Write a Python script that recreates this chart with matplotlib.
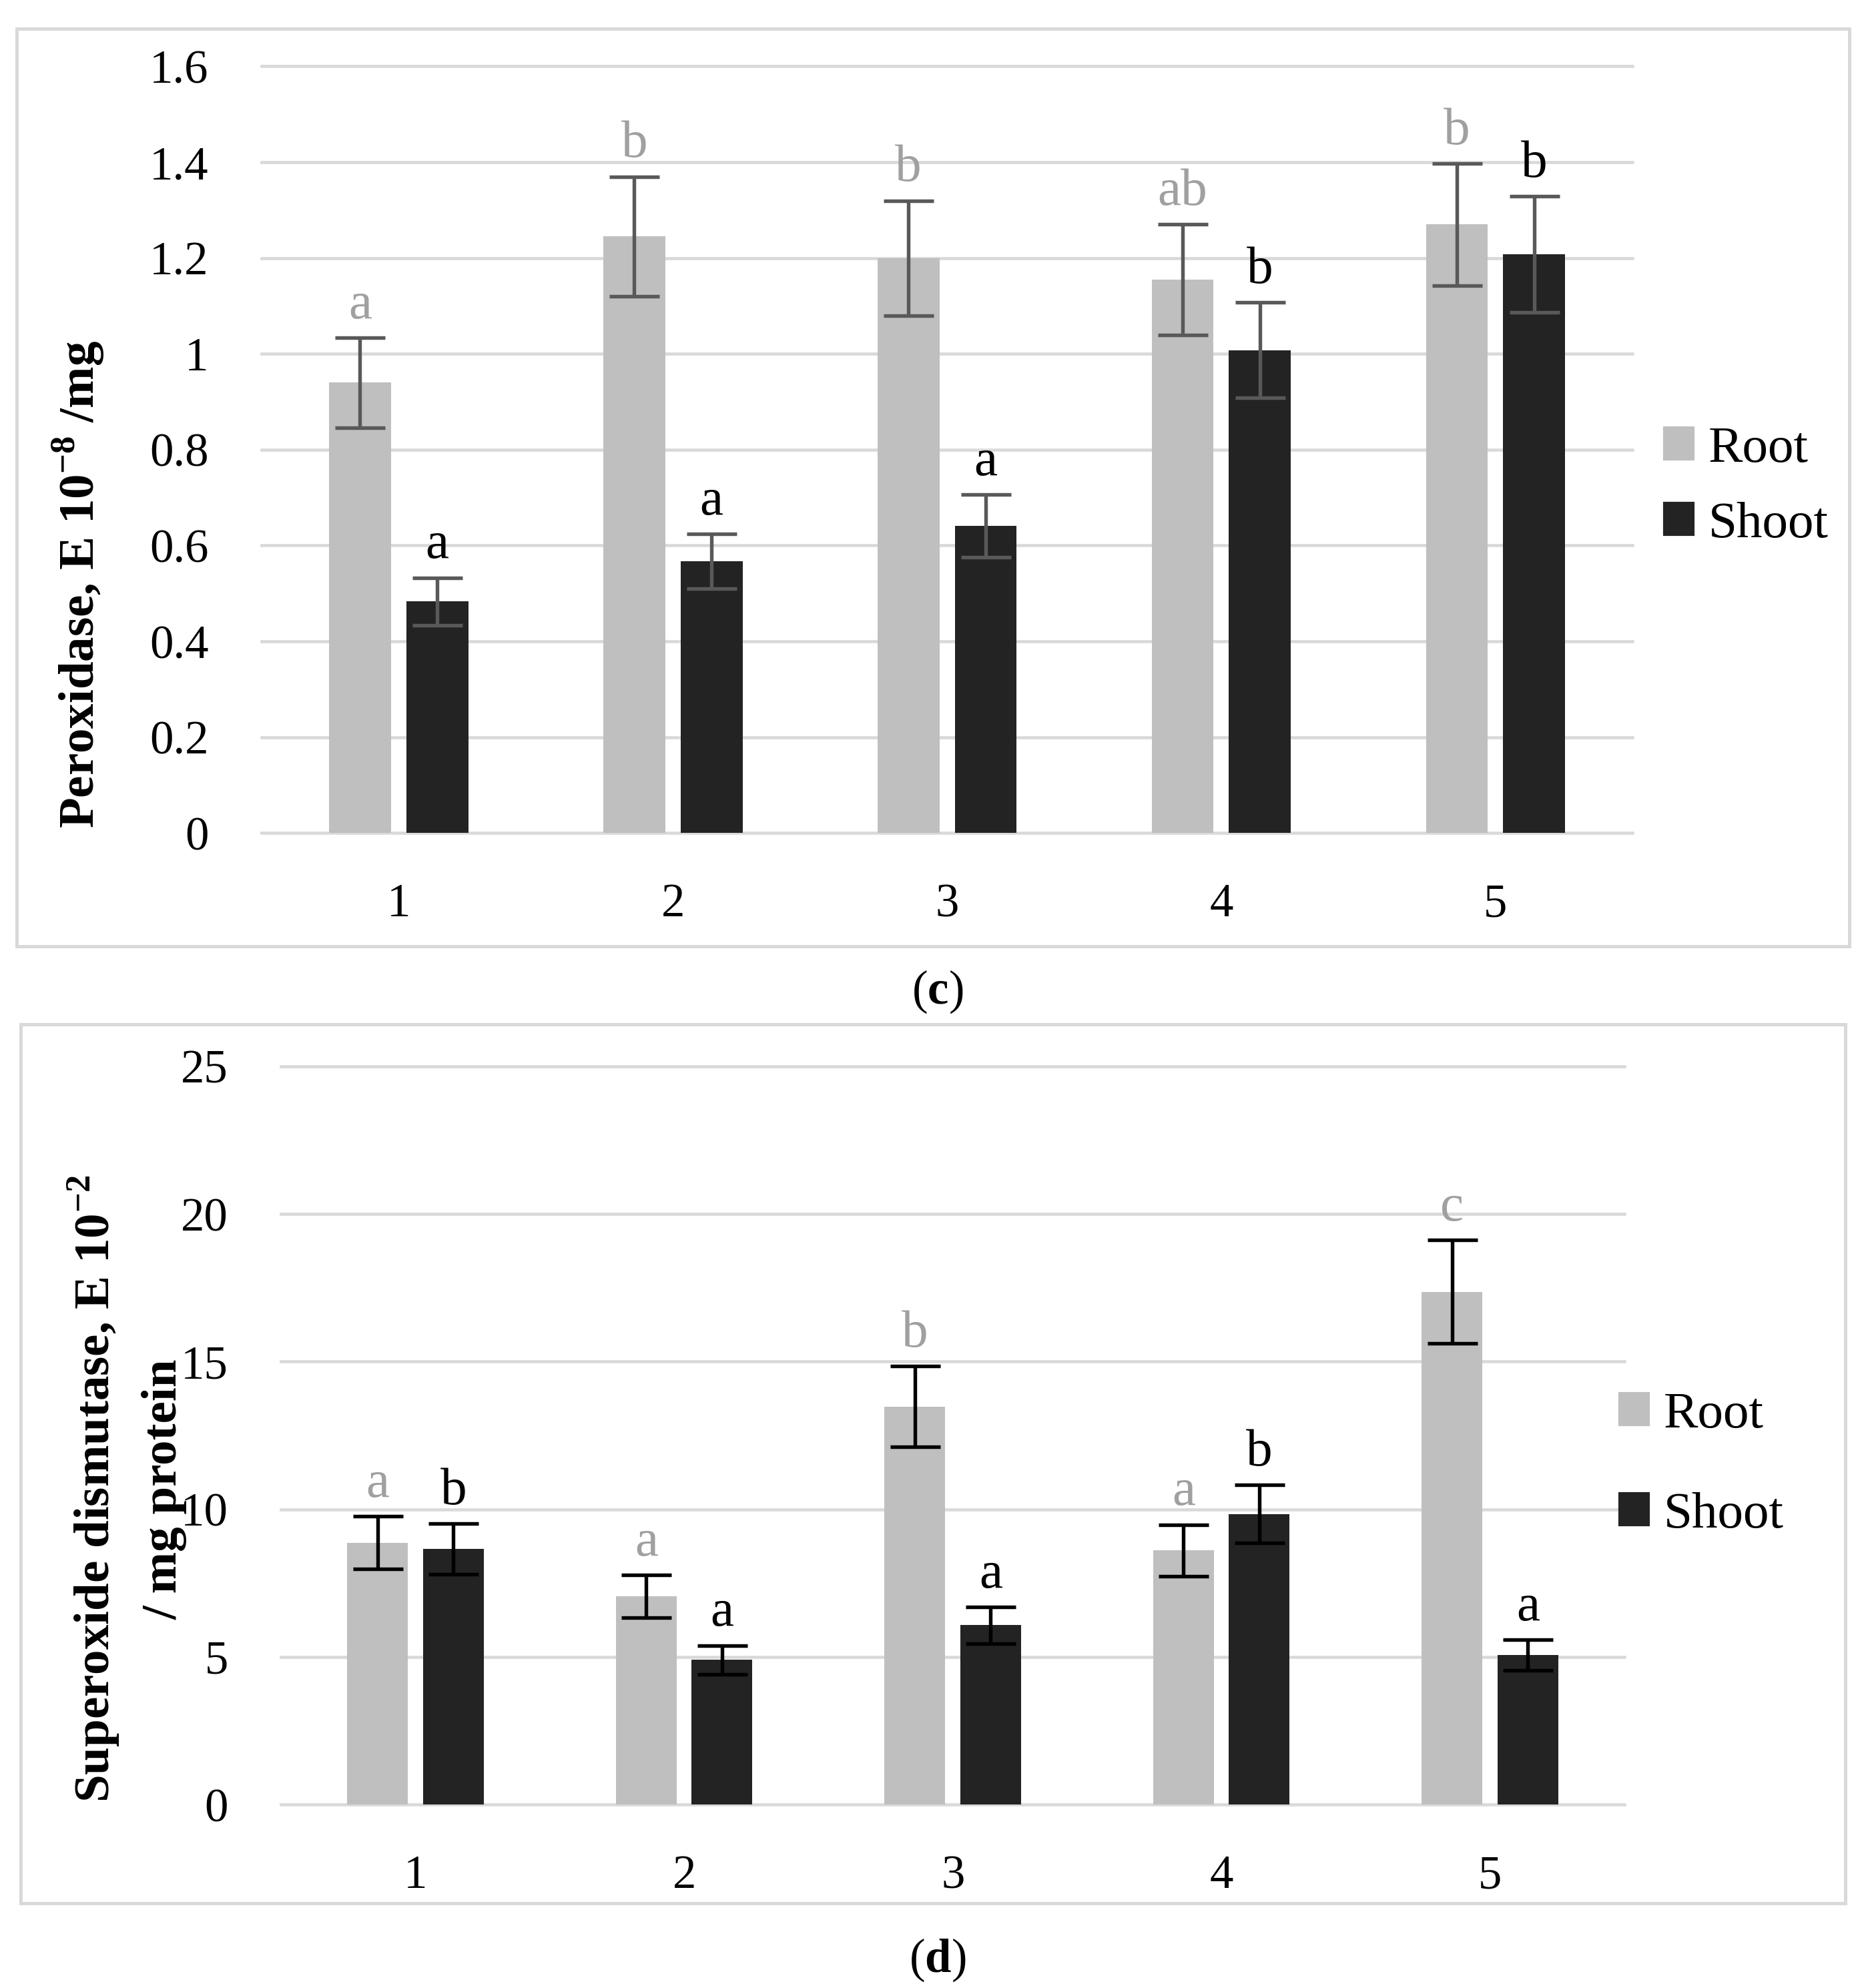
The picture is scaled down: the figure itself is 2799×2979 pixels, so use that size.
import numpy as np
import matplotlib.pyplot as plt
from matplotlib.patches import Patch, Rectangle

plt.rcParams['font.family'] = ['Liberation Serif', 'DejaVu Serif']
plt.rcParams['mathtext.fontset'] = 'custom'
plt.rcParams['mathtext.rm'] = 'Liberation Serif'
plt.rcParams['mathtext.bf'] = 'Liberation Serif:bold'

groups = ['1', '2', '3', '4', '5']

# panel (c): peroxidase
pod_root = [0.94, 1.245, 1.20, 1.155, 1.27]
pod_root_err = [0.094, 0.125, 0.12, 0.116, 0.127]
pod_shoot = [0.483, 0.567, 0.641, 1.008, 1.208]
pod_shoot_err = [0.05, 0.057, 0.065, 0.10, 0.121]
pod_root_letters = ['a', 'b', 'b', 'ab', 'b']
pod_shoot_letters = ['a', 'a', 'a', 'b', 'b']
pod_ticks = [0, 0.2, 0.4, 0.6, 0.8, 1.0, 1.2, 1.4, 1.6]
pod_ticklabels = ['0', '0.2', '0.4', '0.6', '0.8', '1', '1.2', '1.4', '1.6']

# panel (d): superoxide dismutase
sod_root = [8.87, 7.06, 13.48, 8.61, 17.37]
sod_root_err = [0.90, 0.72, 1.37, 0.87, 1.75]
sod_shoot = [8.65, 4.90, 6.07, 9.84, 5.07]
sod_shoot_err = [0.86, 0.49, 0.62, 0.99, 0.52]
sod_root_letters = ['a', 'a', 'b', 'a', 'c']
sod_shoot_letters = ['b', 'a', 'a', 'b', 'a']
sod_ticks = [0, 5, 10, 15, 20, 25]
sod_ticklabels = ['0', '5', '10', '15', '20', '25']

ROOT_C = '#bfbfbf'
SHOOT_C = '#232323'
GRID_C = '#d9d9d9'
LETTER_GRAY = '#a0a0a0'


def panel(ax, root, rerr, shoot, serr, rlet, slet, ticks, ticklabels, ecolor):
    x = np.arange(1, len(groups) + 1)
    w = 0.226
    off = 0.141
    ekw = dict(ecolor=ecolor, elinewidth=1.3, capsize=9, capthick=1.3)
    ax.bar(x - off, root, w, color=ROOT_C, yerr=rerr, error_kw=ekw, zorder=3)
    ax.bar(x + off, shoot, w, color=SHOOT_C, yerr=serr, error_kw=ekw, zorder=3)
    for xi, v, e, t in zip(x - off, root, rerr, rlet):
        ax.annotate(t, (xi, v + e), xytext=(0, 7), textcoords='offset points',
                    ha='center', va='baseline', fontsize=19, color=LETTER_GRAY)
    for xi, v, e, t in zip(x + off, shoot, serr, slet):
        ax.annotate(t, (xi, v + e), xytext=(0, 7), textcoords='offset points',
                    ha='center', va='baseline', fontsize=19, color='black')
    ax.set_xlim(0.5, len(groups) + 0.5)
    ax.set_ylim(ticks[0], ticks[-1])
    ax.set_yticks(ticks)
    ax.set_yticklabels(ticklabels)
    ax.set_xticks(x)
    ax.set_xticklabels(groups)
    ax.tick_params(axis='both', length=0, labelsize=17)
    ax.tick_params(axis='y', pad=19)
    ax.tick_params(axis='x', pad=18)
    for s in ax.spines.values():
        s.set_visible(False)
    ax.set_axisbelow(True)
    ax.grid(axis='y', color=GRID_C, linewidth=1.1, clip_on=False)
    ax.patch.set_alpha(0)


fig = plt.figure(figsize=(2799 / 300, 2979 / 300), dpi=300)

# frames
fig.patches.append(Rectangle((0.009, 0.524), 0.981, 0.4615, transform=fig.transFigure,
                             fill=False, edgecolor=GRID_C, linewidth=1.2))
fig.patches.append(Rectangle((0.011, 0.0426), 0.977, 0.442, transform=fig.transFigure,
                             fill=False, edgecolor=GRID_C, linewidth=1.2))

ax1 = fig.add_axes([0.140, 0.581, 0.734, 0.3856])
panel(ax1, pod_root, pod_root_err, pod_shoot, pod_shoot_err,
      pod_root_letters, pod_shoot_letters, pod_ticks, pod_ticklabels, '#595959')

ax2 = fig.add_axes([0.1505, 0.0923, 0.7191, 0.3713])
panel(ax2, sod_root, sod_root_err, sod_shoot, sod_shoot_err,
      sod_root_letters, sod_shoot_letters, sod_ticks, sod_ticklabels, 'black')

# y labels
fig.text(0.042, 0.706, r'Peroxidase, E 10$^{\mathbf{-8}}$ /mg', rotation=90,
         ha='center', va='center', fontsize=18, fontweight='bold')
fig.text(0.050, 0.251, r'Superoxide dismutase, E 10$^{\mathbf{-2}}$', rotation=90,
         ha='center', va='center', fontsize=18, fontweight='bold')
fig.text(0.088, 0.251, '/ mg protein', rotation=90,
         ha='center', va='center', fontsize=18, fontweight='bold')

# legends
handles = [Patch(color=ROOT_C), Patch(color=SHOOT_C)]
fig.legend(handles, ['Root', 'Shoot'], loc='center left', bbox_to_anchor=(0.891, 0.755),
           bbox_transform=fig.transFigure, frameon=False, fontsize=18.5, borderpad=0,
           borderaxespad=0, handlelength=0.56, handleheight=0.56, handletextpad=0.3,
           labelspacing=0.58)
fig.legend(handles, ['Root', 'Shoot'], loc='center left', bbox_to_anchor=(0.867, 0.263),
           bbox_transform=fig.transFigure, frameon=False, fontsize=18.5, borderpad=0,
           borderaxespad=0, handlelength=0.56, handleheight=0.56, handletextpad=0.3,
           labelspacing=1.05)

# captions
fig.text(0.502, 0.501, r'($\mathbf{c}$)', ha='center', va='center', fontsize=17)
fig.text(0.502, 0.014, r'($\mathbf{d}$)', ha='center', va='center', fontsize=17)

fig.savefig('out.png', dpi=300)
